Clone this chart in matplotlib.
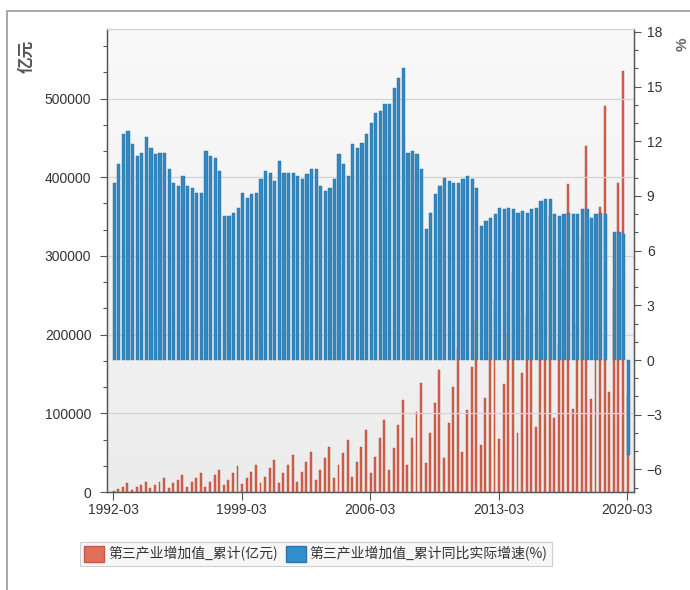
import numpy as np
import pandas as pd
import matplotlib
matplotlib.use('Agg')
import matplotlib.pyplot as plt
from matplotlib.ticker import MultipleLocator, FixedLocator
from matplotlib.patches import Rectangle

plt.rcParams['font.family'] = ['Liberation Sans', 'Noto Sans CJK SC', 'DejaVu Sans']

# quarters 1992-03 .. 2020-03
quarters = list(pd.period_range('1992Q1', '2020Q1', freq='Q').strftime('%Y-%m'))

# 第三产业增加值_累计 (亿元)
value_added = [
    1700, 3800, 6800, 11000,
    2500, 6800, 8900, 13100,
    4700, 8900, 13100, 18200,
    4700, 11000, 15300, 21600,
    6800, 13100, 17400, 23700,
    6800, 13100, 21600, 28000,
    8900, 15300, 23700, 32800,
    9700, 17400, 25800, 34300,
    11000, 19500, 30000, 40700,
    11000, 23700, 34300, 47000,
    13100, 25800, 38500, 51300,
    15300, 28000, 42800, 57600,
    17400, 34300, 49100, 66100,
    19500, 38500, 57600, 78800,
    23700, 44900, 68200, 91500,
    28000, 55500, 85100, 116900,
    34300, 68200, 102100, 138100,
    36400, 74600, 112700, 155000,
    42800, 87300, 133900, 182600,
    51300, 104200, 159300, 216500,
    59700, 119000, 178300, 245000,
    66900, 136800, 203700, 278000,
    74600, 151600, 226000, 310500,
    83000, 168000, 256000, 350200,
    93600, 189000, 285000, 391000,
    105000, 215000, 322500, 439800,
    117800, 240000, 362000, 490500,
    127500, 258800, 393000, 535300,
    123300,
]

# 第三产业增加值_累计同比实际增速 (%)
growth = [
    9.73, 10.73, 12.38, 12.56,
    11.83, 11.21, 11.37, 12.21,
    11.65, 11.28, 11.37, 11.37,
    10.46, 9.73, 9.54, 10.09,
    9.54, 9.45, 9.18, 9.18,
    11.46, 11.19, 11.10, 10.37,
    7.90, 7.90, 8.08, 8.35,
    9.18, 8.90, 9.09, 9.18,
    9.91, 10.37, 10.28, 9.82,
    10.92, 10.28, 10.28, 10.28,
    10.09, 9.91, 10.19, 10.46,
    10.46, 9.54, 9.27, 9.45,
    9.91, 11.28, 10.73, 10.09,
    11.83, 11.65, 11.92, 12.38,
    13.02, 13.57, 13.66, 14.02,
    14.02, 14.94, 15.49, 16.04,
    11.37, 11.46, 11.28, 10.46,
    7.17, 8.08, 9.09, 9.54,
    10.00, 9.82, 9.73, 9.73,
    9.91, 10.09, 9.91, 9.45,
    7.35, 7.62, 7.81, 7.99,
    8.35, 8.27, 8.35, 8.27,
    8.08, 8.17, 8.08, 8.27,
    8.35, 8.72, 8.81, 8.81,
    7.99, 7.90, 7.99, 8.08,
    7.99, 7.99, 8.27, 8.27,
    7.81, 7.99, 8.08, 7.99,
    np.nan, 7.04, 7.00, 6.90,
    -5.20,
]

tick_labels = ['1992-03', '1999-03', '2006-03', '2013-03', '2020-03']

RED = '#d5604a'
BLUE = '#3289c2'
TXT = '#333333'

x = np.arange(len(value_added))

fig = plt.figure(figsize=(6.9, 5.9), dpi=100, facecolor='white')
ax = fig.add_axes([0.1546, 0.1661, 0.7647, 0.7842])
ax2 = ax.twinx()

# background gradient of the plot area
grad = np.linspace(0, 1, 256).reshape(-1, 1)
ax.imshow(grad, extent=[0, 1, 0, 1], transform=ax.transAxes, aspect='auto',
          cmap=matplotlib.colors.LinearSegmentedColormap.from_list('bg', ['#ececec', '#f9f9f9']),
          origin='lower', zorder=0)

ax.bar(x + 0.07, value_added, width=0.42, color=RED, edgecolor='#b24a36',
       linewidth=0.3, zorder=2)
ax2.bar(x + 0.2, growth, width=0.7, color=BLUE, edgecolor='#246b98',
        linewidth=0.3, zorder=3)

ax.set_xlim(-1.44, 113.53)
ax.set_ylim(0, 588000)
ax2.set_ylim(-7.24, 18.14)

ax.yaxis.set_major_locator(MultipleLocator(100000))
ax.yaxis.set_minor_locator(MultipleLocator(100000 / 3))
ax2.yaxis.set_major_locator(MultipleLocator(3))
ax2.yaxis.set_minor_locator(MultipleLocator(1))
ax.xaxis.set_major_locator(FixedLocator([quarters.index(t) for t in tick_labels]))
ax.set_xticklabels(tick_labels)

ax.grid(axis='y', which='major', color='#d4d4d4', linewidth=0.9, zorder=1)
ax.set_axisbelow(False)

for a in (ax, ax2):
    a.spines['top'].set_color('#d0d0d0')
    for s in ('left', 'right', 'bottom'):
        a.spines[s].set_color('#555555')
        a.spines[s].set_linewidth(0.9)
    a.patch.set_visible(False)

ax.tick_params(axis='y', which='major', length=5, width=0.8, pad=6,
               labelsize=10, colors='#555555', labelcolor=TXT)
ax.tick_params(axis='y', which='minor', length=3, width=0.8, colors='#555555')
ax2.tick_params(axis='y', which='major', length=5, width=0.8, pad=4,
                labelsize=10, colors='#555555', labelcolor=TXT)
ax2.tick_params(axis='y', which='minor', length=3, width=0.8, colors='#555555')
ax.tick_params(axis='x', which='major', length=6, width=0.8, pad=2,
               labelsize=10, colors='#555555', labelcolor=TXT)

fig.text(0.039, 0.905, '亿元', rotation=90, ha='center', va='center',
         fontsize=12, color='#555555', fontweight='bold', family=['Noto Sans CJK SC'])
fig.text(0.99, 0.925, '%', rotation=90, ha='center', va='center',
         fontsize=11, color='#666666', fontweight='bold')

# outer frame
fig.patches.append(Rectangle((7 / 690, -0.05), 1.2, 1 - 11 / 590 + 0.05,
                             transform=fig.transFigure, fill=False,
                             edgecolor='#9a9a9a', linewidth=1.2))

handles = [Rectangle((0, 0), 1, 1, facecolor='#e0705a', edgecolor='#c05a46'),
           Rectangle((0, 0), 1, 1, facecolor='#2f8fd0', edgecolor='#2a75ad')]
leg = fig.legend(handles, ['第三产业增加值_累计(亿元)', '第三产业增加值_累计同比实际增速(%)'],
                 loc='center', bbox_to_anchor=(0.458, 0.061), ncol=2,
                 frameon=True, fancybox=False, handlelength=1.4,
                 handleheight=1.4, handletextpad=0.3, columnspacing=0.6,
                 borderpad=0.3, prop={'family': ['Noto Sans CJK SC'], 'size': 10})
leg.get_frame().set_edgecolor('#c4c4c4')
leg.get_frame().set_facecolor('#f6f6f6')
leg.get_frame().set_linewidth(0.8)
for t in leg.get_texts():
    t.set_color(TXT)

fig.savefig('out.png', dpi=100, facecolor='white')
